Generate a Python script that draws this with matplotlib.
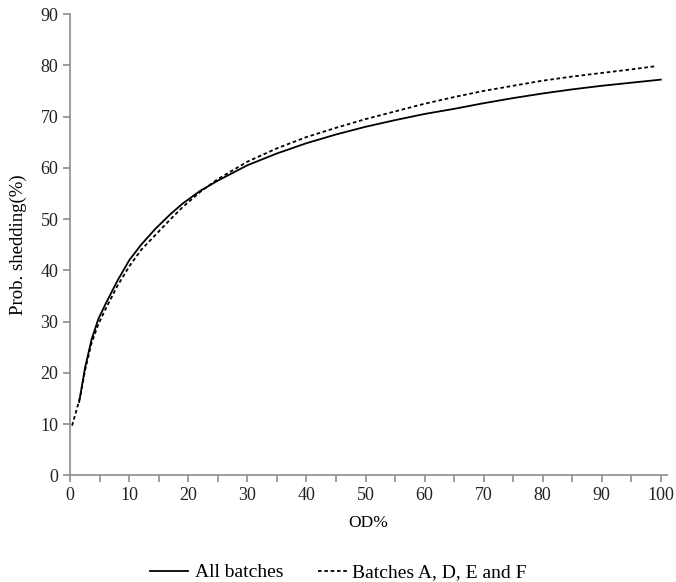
import numpy as np
import matplotlib.pyplot as plt
from matplotlib.ticker import MultipleLocator

plt.rcParams['font.family'] = ['Liberation Serif', 'DejaVu Serif']

# All batches (solid)
x_all = [1.5, 2.5, 3.6, 4.75, 6, 8, 10, 12, 14.5, 17, 19, 22, 25, 30, 35, 40,
         45, 50, 55, 60, 65, 70, 75, 80, 85, 90, 95, 100]
y_all = [14.3, 21, 26.5, 30.5, 33.5, 38, 42, 45, 48.2, 51, 53, 55.5, 57.5, 60.5,
         62.8, 64.8, 66.5, 68, 69.3, 70.5, 71.5, 72.6, 73.6, 74.5, 75.3, 76, 76.6, 77.2]

# Batches A, D, E and F (dotted)
x_adef = [0.3, 1, 1.7, 2.5, 3.6, 4.75, 6, 8, 10, 12, 14.5, 17, 19, 22, 25, 30,
          35, 40, 45, 50, 55, 60, 65, 70, 75, 80, 85, 90, 95, 99]
y_adef = [9.7, 12.5, 15.5, 20.5, 25.8, 29.5, 32.5, 37, 40.8, 44, 47, 50, 52.3,
          55.3, 57.8, 61.2, 63.8, 66, 67.8, 69.5, 71, 72.5, 73.8, 75, 76, 77,
          77.8, 78.5, 79.2, 79.8]

fig = plt.figure(figsize=(6.76, 5.82), dpi=100)
ax = fig.add_axes([0.104, 0.1833, 0.8822, 0.7926])

l1, = ax.plot(x_all, y_all, color='black', lw=1.3)
l2, = ax.plot(x_adef, y_adef, color='black', lw=1.3, linestyle=(0, (2, 1.5)))

ax.set_xlim(0, 101)
ax.set_ylim(0, 90)
ax.xaxis.set_minor_locator(MultipleLocator(5))
ax.yaxis.set_major_locator(MultipleLocator(10))
ax.set_xticks(range(0, 101, 10))

for s in ['top', 'right']:
    ax.spines[s].set_visible(False)
for s in ['left', 'bottom']:
    ax.spines[s].set_color('#8c8c8c')
    ax.spines[s].set_linewidth(1.2)

ax.tick_params(which='both', direction='out', length=5, color='#8c8c8c',
               width=1.2, labelsize=13, labelcolor='#222222')

ax.set_xlabel('OD%', fontsize=12.5, labelpad=8)
ax.set_ylabel('Prob. shedding(%)', fontsize=13.5, labelpad=10)

# two legend entries placed separately (different handle lengths)
leg1 = fig.legend([l1], ['All batches'], loc='center left',
                  bbox_to_anchor=(150 / 676, 0.016), frameon=False, fontsize=14,
                  handlelength=1.95, handletextpad=0.36, borderpad=0, borderaxespad=0)
leg2 = fig.legend([l2], ['Batches A, D, E and F'], loc='center left',
                  bbox_to_anchor=(318 / 676, 0.016), frameon=False, fontsize=14,
                  handlelength=1.55, handletextpad=0.2, borderpad=0, borderaxespad=0)

fig.savefig('out.png', dpi=100)
